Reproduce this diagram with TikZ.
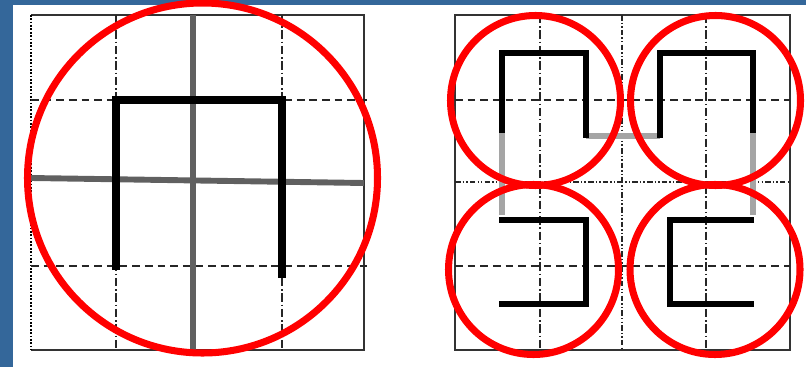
\documentclass[tikz,border=0pt]{standalone}
\definecolor{frameblue}{RGB}{52,103,154}
\definecolor{axisgray}{RGB}{96,96,96}
\definecolor{linkgray}{RGB}{165,165,165}
\begin{document}
\begin{tikzpicture}[x=0.025cm, y=-0.025cm,
    border/.style={draw=black!80, line width=0.9pt},
    halfline/.style={black!85, line width=0.9pt, dash pattern=on 5.5pt off 3.5pt},
    quarterline/.style={black!85, line width=0.9pt, dash pattern=on 6pt off 2pt on 1pt off 2pt},
    centerline/.style={black!85, line width=0.8pt, dash pattern=on 4pt off 1.5pt on 1pt off 1.5pt on 1pt off 1.5pt},
    curve/.style={line width=5.6pt, line join=miter},
    smallcurve/.style={line width=3.6pt, line join=miter},
    axis/.style={axisgray, line width=4.2pt},
    link/.style={linkgray, line width=3.6pt},
    ring/.style={red, line width=5pt}]
  \useasboundingbox (0,0) rectangle (806,367);
  \fill[white] (0,0) rectangle (806,367);
  \fill[frameblue] (0,0) rectangle (13,367);
  \fill[frameblue] (0,0) rectangle (806,5);

  % Left panel: 4x4 grid
  \draw[border] (31,15) -- (364,15) -- (364,350) -- (31,350);
  \draw[black, line width=1.8pt, dash pattern=on 1.2pt off 1.2pt] (31,15) -- (31,350);
  \draw[halfline] (31,100) -- (367,100);
  \draw[halfline] (31,266) -- (367,266);
  \draw[quarterline] (116,15) -- (116,350);
  \draw[quarterline] (282,15) -- (282,350);

  % Left panel: first order curve and quadrant axes
  \draw[axis] (193,15) -- (193,352);
  \draw[axis] (31,178) -- (364,183);
  \draw[curve] (116,270) -- (116,100) -- (282,100) -- (282,278);

  % Right panel: 4x4 grid
  \draw[border] (455,15) rectangle (790,350);
  \draw[halfline] (455,100) -- (790,100);
  \draw[halfline] (455,266) -- (790,266);
  \draw[quarterline] (540,15) -- (540,350);
  \draw[quarterline] (706,15) -- (706,350);
  \draw[centerline] (622,15) -- (622,350);
  \draw[centerline] (455,182) -- (790,182);

  % Right panel: four sub-curves and their links
  \draw[link] (502,133) -- (502,215);
  \draw[link] (586,136) -- (660,136);
  \draw[link] (753,133) -- (753,215);
  \draw[smallcurve] (502,133) -- (502,53) -- (586,53) -- (586,138);
  \draw[smallcurve] (660,138) -- (660,53) -- (753,53) -- (753,133);
  \draw[smallcurve] (499,220) -- (586,220) -- (586,304) -- (499,304);
  \draw[smallcurve] (754,220) -- (670,220) -- (670,304) -- (754,304);

  % Red circles
  \draw[ring] (202.5,178) circle (175);
  \draw[ring] (535.5,100.5) circle (85);
  \draw[ring] (715.5,100.5) circle (85);
  \draw[ring] (533.5,269.5) circle (85);
  \draw[ring] (715,269.5) circle (85);
\end{tikzpicture}
\end{document}
